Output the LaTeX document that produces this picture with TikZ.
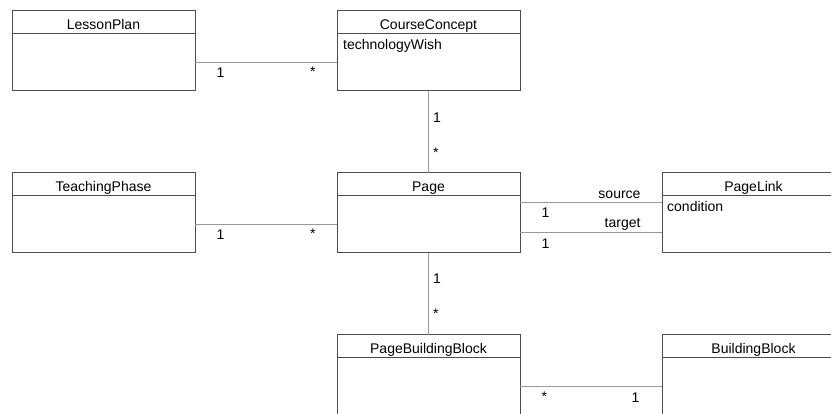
\documentclass[tikz,border=0pt]{standalone}
\usepackage{fontspec}
\setmainfont{Liberation Sans}
\usetikzlibrary{positioning}
\definecolor{boxgray}{gray}{0.3}
\definecolor{linkgray}{gray}{0.6}
\newcommand{\umlfont}{\fontsize{14}{17}\selectfont}
\tikzset{
        x=1pt, y=-1pt,
        classname/.style={draw=boxgray, line width=1pt, outer sep=0pt, inner sep=0pt, minimum width=183pt, text height=18.5pt, text depth=4.5pt, font=\umlfont},
        classbody/.style={draw=boxgray, line width=1pt, outer sep=0pt, inner sep=0pt, minimum width=183pt, minimum height=57pt},
        attribute/.style={anchor=base west, inner sep=0pt, font=\umlfont},
        assoc/.style={draw=linkgray, line width=1pt},
        mult/.style={inner sep=0pt, font=\umlfont},
        role/.style={anchor=base east, inner sep=0pt, font=\umlfont}
          }

\begin{document}
\begin{tikzpicture}
            \clip (0,0) rectangle (831,414);
            % top row
            \node[classname] (lessonh) at (103.5,22.5) {LessonPlan};
            \node[classbody, below=0pt of lessonh] (lesson) {};
            \node[classname, right=142pt of lessonh] (courseh) {CourseConcept};
            \node[classbody, below=0pt of courseh] (course) {};
            \node[attribute] (wish) at ([xshift=6pt, yshift=-16pt]course.north west) {technologyWish};
            % middle row
            \node[classname, below=82pt of lesson] (teachh) {TeachingPhase};
            \node[classbody, below=0pt of teachh] (teach) {};
            \node[classname, below=82pt of course] (pageh) {Page};
            \node[classbody, below=0pt of pageh] (page) {};
            \node[classname, right=142pt of pageh] (linkh) {PageLink};
            \node[classbody, below=0pt of linkh] (link) {};
            \node[attribute] (cond) at ([xshift=5pt, yshift=-16pt]link.north west) {condition};
            % bottom row
            \node[classname, below=82pt of page] (pbbh) {PageBuildingBlock};
            \node[classbody, below=0pt of pbbh] (pbb) {};
            \node[classname, right=142pt of pbbh] (bbh) {BuildingBlock};
            \node[classbody, below=0pt of bbh] (bb) {};

            % associations
            \draw[assoc] (lesson) -- (course)
              node[mult, pos=0, anchor=north west, xshift=21pt, yshift=-4.5pt] {1}
              node[mult, pos=1, anchor=north east, xshift=-21pt, yshift=-4pt] {*};
            \draw[assoc] (course) -- (pageh)
              node[mult, pos=0, anchor=north west, xshift=4pt, yshift=-21pt] {1}
              node[mult, pos=1, anchor=north west, xshift=4pt, yshift=26pt] {*};
            \draw[assoc] (teach) -- (page)
              node[mult, pos=0, anchor=north west, xshift=21pt, yshift=-5pt] {1}
              node[mult, pos=1, anchor=north east, xshift=-21pt, yshift=-4pt] {*};
            \draw[assoc] ([yshift=21.5pt]page.east) -- ([yshift=21.5pt]link.west)
              node[mult, pos=0, anchor=north west, xshift=21pt, yshift=-4pt] {1}
              node[role, pos=1, xshift=-21pt, yshift=4pt] {source};
            \draw[assoc] ([yshift=-8.5pt]page.east) -- ([yshift=-8.5pt]link.west)
              node[mult, pos=0, anchor=north west, xshift=21pt, yshift=-5pt] {1}
              node[role, pos=1, xshift=-21pt, yshift=5pt] {target};
            \draw[assoc] (page) -- (pbbh)
              node[mult, pos=0, anchor=north west, xshift=4pt, yshift=-20pt] {1}
              node[mult, pos=1, anchor=north west, xshift=4pt, yshift=27pt] {*};
            \draw[assoc] (pbb) -- (bb)
              node[mult, pos=0, anchor=north west, xshift=21pt, yshift=-5pt] {*}
              node[mult, pos=1, anchor=north east, xshift=-22pt, yshift=-6pt] {1};
          \end{tikzpicture}
\end{document}
